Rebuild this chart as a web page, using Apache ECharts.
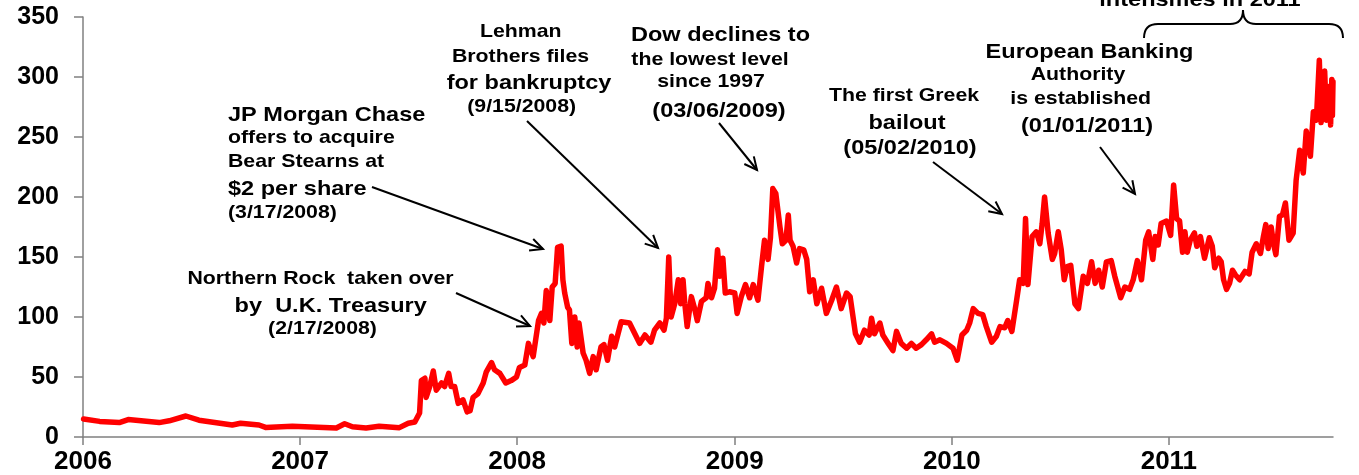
<!DOCTYPE html>
<html><head><meta charset="utf-8">
<script src="https://cdn.jsdelivr.net/npm/echarts@6/dist/echarts.min.js"></script>
<style>html,body{margin:0;padding:0;background:#fff}#c{width:1359px;height:475px}</style>
</head><body><div id="c"></div><script>
// ---- data ----
const dates = [
'2006-01-02','2006-01-29','2006-03-03','2006-03-18','2006-05-09','2006-05-26','2006-06-23','2006-07-15','2006-09-09','2006-09-23','2006-10-24','2006-11-04','2006-12-19',
'2007-03-03','2007-03-17','2007-03-30','2007-04-22','2007-05-14','2007-06-17','2007-07-02','2007-07-13','2007-07-21','2007-07-24','2007-07-30','2007-08-01','2007-08-07','2007-08-13','2007-08-18','2007-08-27','2007-09-01','2007-09-08','2007-09-12','2007-09-18','2007-09-24','2007-10-02','2007-10-09','2007-10-14','2007-10-19','2007-10-27','2007-11-05','2007-11-10','2007-11-19','2007-11-24','2007-12-03','2007-12-13','2007-12-22','2007-12-31',
'2008-01-05','2008-01-14','2008-01-20','2008-01-28','2008-02-06','2008-02-11','2008-02-15','2008-02-19','2008-02-25','2008-02-29','2008-03-05','2008-03-09','2008-03-15','2008-03-18','2008-03-21','2008-03-26','2008-03-29','2008-04-02','2008-04-07','2008-04-11','2008-04-14','2008-04-21','2008-04-26','2008-05-02','2008-05-08','2008-05-13','2008-05-21','2008-05-26','2008-06-01','2008-06-08','2008-06-13','2008-06-24','2008-07-08','2008-07-17','2008-07-25','2008-08-03','2008-08-13','2008-08-19','2008-08-28','2008-09-04','2008-09-08','2008-09-12','2008-09-16','2008-09-22','2008-09-28','2008-10-02','2008-10-06','2008-10-09','2008-10-13','2008-10-20','2008-10-26','2008-10-30','2008-11-06','2008-11-14','2008-11-17','2008-11-23','2008-11-28','2008-12-03','2008-12-07','2008-12-12','2008-12-16','2008-12-23',
'2009-01-01','2009-01-05','2009-01-12','2009-01-19','2009-01-26','2009-02-01','2009-02-09','2009-02-15','2009-02-20','2009-02-26','2009-03-02','2009-03-06','2009-03-11','2009-03-15','2009-03-18','2009-03-22','2009-03-28','2009-04-01','2009-04-04','2009-04-09','2009-04-15','2009-04-20','2009-04-27','2009-05-02','2009-05-07','2009-05-13','2009-05-19','2009-05-27','2009-06-04','2009-06-13','2009-06-21','2009-06-29','2009-07-08','2009-07-14','2009-07-23','2009-07-30','2009-08-07','2009-08-15','2009-08-19','2009-08-24','2009-09-02','2009-09-07','2009-09-16','2009-09-24','2009-09-30','2009-10-08','2009-10-17','2009-10-25','2009-11-02','2009-11-11','2009-11-19','2009-11-28','2009-12-03','2009-12-12','2009-12-23',
'2010-01-03','2010-01-10','2010-01-18','2010-01-26','2010-01-31','2010-02-06','2010-02-14','2010-02-22','2010-02-28','2010-03-09','2010-03-17','2010-03-23','2010-03-31','2010-04-05','2010-04-12','2010-04-20','2010-04-25','2010-05-01','2010-05-05','2010-05-09','2010-05-16','2010-05-23','2010-05-29','2010-06-02','2010-06-06','2010-06-12','2010-06-19','2010-06-23','2010-06-29','2010-07-04','2010-07-09','2010-07-14','2010-07-20','2010-07-27','2010-08-02','2010-08-10','2010-08-17','2010-08-24','2010-08-30','2010-09-05','2010-09-11','2010-09-18','2010-09-26','2010-10-02','2010-10-07','2010-10-12','2010-10-19','2010-10-27','2010-11-02','2010-11-09','2010-11-16','2010-11-23','2010-11-28','2010-12-05','2010-12-09','2010-12-14','2010-12-19','2010-12-28',
'2011-01-04','2011-01-09','2011-01-14','2011-01-19','2011-01-24','2011-01-28','2011-02-01','2011-02-06','2011-02-13','2011-02-17','2011-02-23','2011-03-02','2011-03-10','2011-03-15','2011-03-19','2011-03-26','2011-03-30','2011-04-03','2011-04-08','2011-04-13','2011-04-18','2011-04-23','2011-04-30','2011-05-09','2011-05-16','2011-05-21','2011-05-28','2011-06-04','2011-06-09','2011-06-13','2011-06-17','2011-06-22','2011-06-26','2011-06-30','2011-07-06','2011-07-11','2011-07-16','2011-07-22','2011-07-29','2011-08-03','2011-08-09','2011-08-15','2011-08-20','2011-08-27','2011-09-01','2011-09-06','2011-09-11','2011-09-14','2011-09-20','2011-09-23','2011-09-27','2011-09-30','2011-10-02','2011-10-03','2011-10-04'
];
const values = [
15,13,12,14.5,12,13.5,17.5,14,10,11.5,10,8,9,
7.5,11,8.5,7.5,9,7.8,11.5,12.5,20,47,49,33,42,55,39,45,42,53,42,42,28,31,21,22,33,36,45,54,62,56,53,45,47,50,
58,60,78,67,97,103,95,122,97,125,128,158,159,131,120,108,106,78,100,75,95,70,64,53,67,56,75,77,64,84,75,96,95,86,78,85,79,89,95,89,99,150,100,111,131,111,131,111,92,117,106,97,113,116,128,116,124,156,134,149,120,121,
120,103,117,127,116,127,114,142,164,148,166,207,203,187,175,161,164,185,164,159,145,157,156,148,121,131,111,124,103,114,125,107,120,117,86,79,89,85,99,86,95,85,78,72,88,78,74,78,74,77,81,86,79,81,78,
74,64,85,89,95,107,103,102,92,79,84,92,91,97,88,114,131,128,182,127,167,171,161,178,200,170,148,153,171,156,131,142,143,111,107,134,128,146,128,139,125,146,147,134,125,116,125,123,131,147,131,164,171,148,167,160,178,180,
168,210,182,180,154,171,154,164,170,159,167,149,166,159,141,149,146,131,123,128,139,135,131,138,136,154,161,153,167,177,157,175,161,152,184,185,195,164,170,214,239,220,255,234,271,264,314,262,305,264,292,260,298,268,296
];
const xStart = '2006-01-01';
const xEnd = '2011-10-04';
const yMin = 0, yMax = 350, yStep = 50;

// annotation texts: [text, x, y, fontSize, align]
const notes = [
  ['JP Morgan Chase', 228, 115, 21, 'left'],
  ['offers to acquire', 228, 138, 19, 'left'],
  ['Bear Stearns at', 228, 162, 19, 'left'],
  ['$2 per share', 228, 189, 21, 'left'],
  ['(3/17/2008)', 228, 213, 19, 'left'],
  ['Northern Rock  taken over', 320.5, 279, 19, 'center'],
  ['by  U.K. Treasury', 330.7, 306, 21, 'center'],
  ['(2/17/2008)', 322.5, 329, 19, 'center'],
  ['Lehman', 520.7, 32, 19, 'center'],
  ['Brothers files', 520.5, 57, 19, 'center'],
  ['for bankruptcy', 529, 83, 21, 'center'],
  ['(9/15/2008)', 521.7, 107, 19, 'center'],
  ['Dow declines to', 720.5, 35, 21, 'center'],
  ['the lowest level', 710, 60, 19, 'center'],
  ['since 1997', 711, 82, 19, 'center'],
  ['(03/06/2009)', 719, 111, 21, 'center'],
  ['The first Greek', 904, 96, 19, 'center'],
  ['bailout', 907, 123, 21, 'center'],
  ['(05/02/2010)', 910, 148, 21, 'center'],
  ['European Banking', 1089.5, 52, 21, 'center'],
  ['Authority', 1078, 75, 19, 'center'],
  ['is established', 1080.7, 99, 19, 'center'],
  ['(01/01/2011)', 1087, 126, 21, 'center'],
  ['intensifies in 2011', 1200, 0, 21, 'center']
];
// arrows: [x1,y1,x2,y2]
const arrows = [
  [372,187,543,249],
  [456,293,530,326],
  [527,121,658,248],
  [719,123,757,170],
  [933,162,1002,214],
  [1100,147,1135,194]
];

const FONT = '"Liberation Sans", Arial, Helvetica, sans-serif';
const graphics = [];
notes.forEach(n => {
  graphics.push({
    type: 'text', x: n[1], y: n[2], scaleX: 1.12, silent: true,
    style: { text: n[0], x: 0, y: 0, fill: '#000',
      font: 'bold ' + n[3] + 'px ' + FONT,
      textAlign: n[4], textVerticalAlign: 'middle' }
  });
});
arrows.forEach(a => {
  const [x1,y1,x2,y2] = a;
  const ang = Math.atan2(y2-y1, x2-x1), L = 14, s = 0.45;
  graphics.push({ type: 'line', silent: true, shape: {x1,y1,x2,y2}, style: {stroke:'#000', lineWidth: 2} });
  graphics.push({ type: 'polyline', silent: true, shape: { points: [
    [x2 - L*Math.cos(ang - s), y2 - L*Math.sin(ang - s)], [x2, y2],
    [x2 - L*Math.cos(ang + s), y2 - L*Math.sin(ang + s)] ] },
    style: {stroke:'#000', lineWidth: 2, fill: null} });
});
// brace over 2011
const braceStyle = { stroke: '#000', lineWidth: 2, fill: null };
[
  {x1:1144,y1:38,cpx1:1144,cpy1:24,x2:1158,y2:24},
  {x1:1230,y1:24,cpx1:1243,cpy1:24,x2:1243,y2:10},
  {x1:1243,y1:10,cpx1:1243,cpy1:24,x2:1256,y2:24},
  {x1:1329,y1:24,cpx1:1343,cpy1:24,x2:1343,y2:38}
].forEach(s => graphics.push({ type: 'bezierCurve', silent: true, shape: s, style: braceStyle }));
graphics.push({ type: 'line', silent: true, shape: {x1:1158,y1:24,x2:1230,y2:24}, style: braceStyle });
graphics.push({ type: 'line', silent: true, shape: {x1:1256,y1:24,x2:1329,y2:24}, style: braceStyle });

const chart = echarts.init(document.getElementById('c'), null, {renderer: 'canvas'});
const YEAR = 365 * 24 * 3600 * 1000;
chart.setOption({
  animation: false,
  backgroundColor: '#fff',
  grid: { left: 83, right: 26, top: 17, bottom: 38, containLabel: false, outerBoundsMode: 'none' },
  xAxis: {
    type: 'time', min: xStart, max: xEnd,
    minInterval: YEAR, maxInterval: YEAR,
    splitLine: { show: false },
    axisLine: { lineStyle: { color: '#808080', width: 1.5 } },
    axisTick: { show: true, length: 8, lineStyle: { color: '#808080', width: 1.5 } },
    axisLabel: { showMaxLabel: false, showMinLabel: true, margin: 12, color: '#000',
      fontSize: 26, fontWeight: 'bold', fontFamily: FONT,
      formatter: v => String(new Date(v).getFullYear()) }
  },
  yAxis: {
    type: 'value', min: yMin, max: yMax, interval: yStep,
    splitLine: { show: false },
    axisLine: { show: true, lineStyle: { color: '#808080', width: 1.5 } },
    axisTick: { show: true, length: 9, lineStyle: { color: '#808080', width: 1.5 } },
    axisLabel: { margin: 24, color: '#000', fontSize: 25, fontWeight: 'bold', fontFamily: FONT }
  },
  series: [{
    type: 'line', showSymbol: false, symbol: 'none',
    data: dates.map((d, i) => [d, values[i]]),
    lineStyle: { color: '#ff0000', width: 5.5, join: 'round', cap: 'round' },
    z: 3
  }],
  graphic: graphics
});
</script></body></html>
